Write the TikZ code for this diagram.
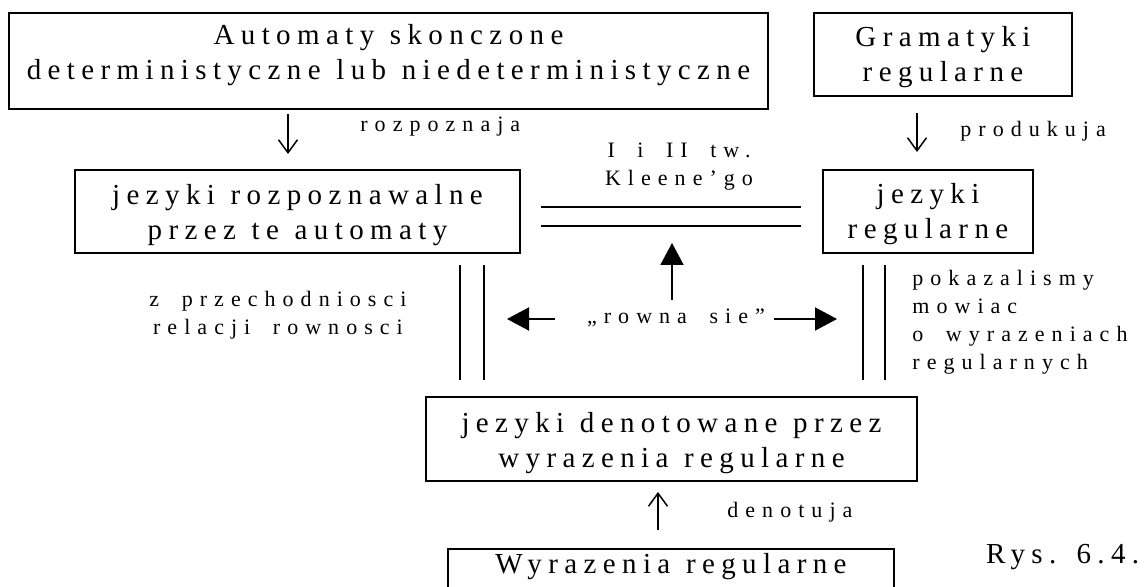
\documentclass[tikz,border=0pt]{standalone}
\usepackage{fontspec}
\usepackage{tikz}
\usetikzlibrary{arrows.meta}
\newfontfamily\boxfont[LetterSpace=22,WordSpace=1.15]{Liberation Serif}
\newfontfamily\labfont[LetterSpace=32,WordSpace=1.8]{Liberation Serif}
\newcommand{\hs}[1]{\rule{0pt}{#1}}
\newcommand{\ds}[1]{\rule[-#1]{0pt}{#1}}

\begin{document}
\begin{tikzpicture}[x=0.5pt,y=-0.5pt,
    box/.style={draw, line width=1pt, inner sep=0pt, align=center,
      font=\boxfont\fontsize{14.5pt}{17.5pt}\selectfont},
    lab/.style={inner sep=0pt, font=\labfont\fontsize{11pt}{14pt}\selectfont},
    arr/.style={line width=0.75pt, -{Straight Barb[length=6.5pt,width=9.5pt]}},
    bigarr/.style={line width=1pt, -{Triangle[length=11pt,width=11.5pt]}},
    eqline/.style={line width=1pt}]

    \useasboundingbox (0,0) rectangle (1146,587);

    % boxes
    \node[box, minimum width=379.5pt, minimum height=48pt] (autom) at (388.5,61)
        {\hs{11.5pt}Automaty skonczone\\deterministyczne lub niedeterministyczne\ds{10pt}};
    \node[box, minimum width=129pt, minimum height=41.5pt] (gram) at (943,54.5)
        {\hs{13.5pt}Gramatyki\\regularne\ds{3.5pt}};
    \node[box, minimum width=222.5pt, minimum height=41.5pt] (rozp) at (297.5,211.5)
        {\hs{14.5pt}jezyki rozpoznawalne\\przez te automaty\ds{3.5pt}};
    \node[box, minimum width=105pt, minimum height=41.5pt] (reg) at (928,211.5)
        {\hs{13.5pt}jezyki\\regularne\ds{3.5pt}};
    \node[box, minimum width=245.5pt, minimum height=42pt] (denot) at (671.5,439)
        {\hs{15pt}jezyki denotowane przez\\wyrazenia regularne\ds{3.5pt}};
    \node[box, minimum width=223pt, minimum height=31pt] (wyr) at (671,580)
        {\hs{10pt}Wyrazenia regularne\ds{17pt}};

    % labels (base = last line)
    \node[lab, anchor=base west] (rozpoz) at (360,132) {rozpoznaja};
    \node[lab, anchor=base west] (produk) at (960,137) {produkuja};
    \node[lab, align=center, anchor=base] (kleene) at (679,186) {I i II tw.\\Kleene’go};
    \node[lab, align=center, anchor=base] (przech) at (278,335) {z przechodniosci\\relacji rownosci};
    \node[lab, anchor=base] (rowna) at (676,324) {„rowna sie”};
    \node[lab, align=left, anchor=base west] (pokaz) at (912,370)
        {pokazalismy\\mowiac\\o wyrazeniach\\regularnych};
    \node[lab, anchor=base west] (denotuja) at (727,517) {denotuja};
    \node[box, draw=none, anchor=base west] (rys) at (985,563) {Rys. 6.4.};

    % ends of the connectors
    \coordinate (rozpFrom) at (288,114);  \coordinate (rozpTo) at (288,154);
    \coordinate (prodFrom) at (917,113);  \coordinate (prodTo) at (917,152);
    \coordinate (denFrom) at (658,530);   \coordinate (denTo) at (658,492);
    \coordinate (eqUpL) at (541,207);     \coordinate (eqUpR) at (801,207);
    \coordinate (eqLoL) at (541,226);     \coordinate (eqLoR) at (801,226);
    \coordinate (vlA1) at (460,265);      \coordinate (vlA2) at (460,380);
    \coordinate (vlB1) at (484,265);      \coordinate (vlB2) at (484,380);
    \coordinate (vrA1) at (863,265);      \coordinate (vrA2) at (863,380);
    \coordinate (vrB1) at (885,265);      \coordinate (vrB2) at (885,380);
    \coordinate (upFrom) at (672,300);    \coordinate (upTo) at (672,243);
    \coordinate (leftFrom) at (555,319);  \coordinate (leftTo) at (507,319);
    \coordinate (rightFrom) at (774,319); \coordinate (rightTo) at (837,319);

    \draw[arr] (rozpFrom) -- (rozpTo);
    \draw[arr] (prodFrom) -- (prodTo);
    \draw[arr] (denFrom) -- (denTo);

    \draw[eqline] (eqUpL) -- (eqUpR);
    \draw[eqline] (eqLoL) -- (eqLoR);
    \draw[eqline] (vlA1) -- (vlA2);
    \draw[eqline] (vlB1) -- (vlB2);
    \draw[eqline] (vrA1) -- (vrA2);
    \draw[eqline] (vrB1) -- (vrB2);

    \draw[bigarr] (upFrom) -- (upTo);
    \draw[bigarr] (leftFrom) -- (leftTo);
    \draw[bigarr] (rightFrom) -- (rightTo);

\end{tikzpicture}
\end{document}
